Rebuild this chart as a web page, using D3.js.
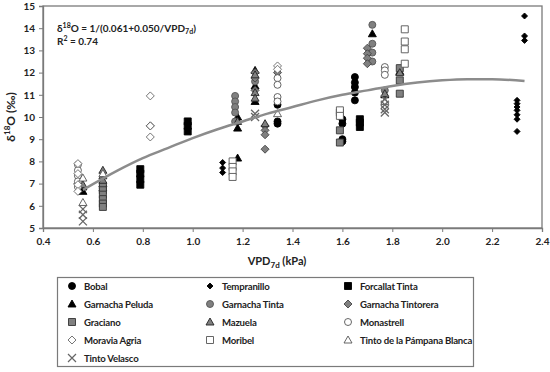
<!DOCTYPE html>
<html>
<head>
<meta charset="utf-8">
<script src="https://cdn.jsdelivr.net/npm/d3@7"></script>
<style>
  body { margin: 0; background: #fff; }
  svg text { font-family: Lato, "Liberation Sans", sans-serif; font-weight: bold; fill: #222; }
</style>
</head>
<body>
<div id="vis-container"></div>
<script>
// values: [VPD7d, d18O]
var bobal = [[1.34,10.55],[1.34,9.8],[1.34,9.7],[1.60,9.9],[1.60,9.7],[1.60,9.0],[1.60,8.9],
  [1.65,11.8],[1.65,11.55],[1.65,11.35],[1.65,11.1],[1.65,10.75]];
var tempranillo = [[1.12,7.95],[1.12,7.7],[1.12,7.5],[2.30,10.75],[2.30,10.6],[2.30,10.45],[2.30,10.3],
  [2.30,10.1],[2.30,9.9],[2.30,9.35],[2.33,14.55],[2.33,13.65],[2.33,13.45]];
var forcallat = [[0.79,6.95],[0.79,7.2],[0.79,7.45],[0.79,7.65],[0.98,9.35],[0.98,9.6],[0.98,9.8],
  [1.67,9.55],[1.67,9.75],[1.67,9.9]];
var garnachaPeluda = [[0.56,6.85],[0.56,6.65],[0.64,7.0],[0.64,6.8],[1.18,10.0],[1.18,9.5],[1.18,8.15],
  [1.25,12.1],[1.25,11.4],[1.25,10.7],[1.72,13.75],[1.77,11.0],[1.83,12.05]];
var garnachaTinta = [[1.17,10.95],[1.17,10.7],[1.17,10.45],[1.17,10.2],[1.17,9.8],[1.25,11.6],
  [1.72,14.15],[1.72,13.3],[1.72,12.9],[1.72,12.5],[1.77,11.2]];
var garnachaTintorera = [[0.54,7.0],[0.83,9.6],[1.25,12.0],[1.25,11.75],[1.25,11.2],[1.29,9.6],[1.29,9.4],
  [1.29,9.2],[1.29,8.55],[1.34,12.0],[1.70,13.1],[1.70,12.85],[1.70,12.65],[1.70,12.4]];
var graciano = [[0.64,6.9],[0.64,6.7],[0.64,6.5],[0.64,6.3],[0.64,6.1],[0.64,5.95],[1.59,10.2],[1.59,9.4],
  [1.59,8.85],[1.83,12.2],[1.83,11.65],[1.83,11.05]];
var mazuela = [[0.56,6.95],[0.64,7.6],[0.64,7.35],[0.64,7.15],[1.18,9.8],[1.25,11.9],[1.25,11.1],[1.25,10.85],
  [1.29,9.7],[1.77,11.05],[1.83,12.0]];
var monastrell = [[0.54,7.85],[0.54,7.6],[0.54,7.35],[0.54,7.1],[0.54,6.85],[1.34,11.75],[1.34,11.45],
  [1.34,10.9],[1.34,10.7],[1.77,12.25],[1.77,12.1],[1.77,11.9]];
var moraviaAgria = [[0.54,7.9],[0.54,7.45],[0.54,6.95],[0.54,6.65],[0.83,10.95],[0.83,9.6],[0.83,9.1],
  [1.34,12.3],[1.34,12.15]];
var moribel = [[1.16,8.0],[1.16,7.75],[1.16,7.55],[1.16,7.3],[1.59,10.3],[1.59,10.05],[1.85,13.95],
  [1.85,13.4],[1.85,13.05],[1.85,12.4]];
var tintoPampana = [[0.56,7.25],[0.56,6.15],[0.64,7.45],[1.34,10.15],[1.77,10.7]];
var tintoVelasco = [[0.56,5.85],[0.56,5.6],[0.56,5.3],[1.25,10.0],[1.25,10.15],[1.77,10.8],[1.77,10.55],
  [1.77,10.35],[1.77,10.2]];

// fitted curve
var trendX = [0.56, 0.7, 0.8, 0.9, 1.0, 1.1, 1.2, 1.3, 1.4, 1.5, 1.6, 1.7, 1.8, 1.9, 2.0, 2.1, 2.2, 2.33];
var trendY = [6.72, 7.6, 8.15, 8.6, 9.05, 9.45, 9.8, 10.15, 10.45, 10.75, 11.0, 11.2, 11.4, 11.55, 11.65, 11.7, 11.7, 11.62];

var xTicks = [0.4, 0.6, 0.8, 1.0, 1.2, 1.4, 1.6, 1.8, 2.0, 2.2, 2.4];
var yTicks = [5, 6, 7, 8, 9, 10, 11, 12, 13, 14, 15];

var series = [
  { name: "Bobal", data: bobal, shape: "circle", fill: "#000", stroke: "#000" },
  { name: "Tempranillo", data: tempranillo, shape: "smalldiamond", fill: "#000", stroke: "#000" },
  { name: "Forcallat Tinta", data: forcallat, shape: "square", fill: "#000", stroke: "#000" },
  { name: "Garnacha Peluda", data: garnachaPeluda, shape: "triangle", fill: "#000", stroke: "#000" },
  { name: "Garnacha Tinta", data: garnachaTinta, shape: "circle", fill: "#808080", stroke: "#555" },
  { name: "Garnacha Tintorera", data: garnachaTintorera, shape: "diamond", fill: "#808080", stroke: "#444" },
  { name: "Graciano", data: graciano, shape: "square", fill: "#808080", stroke: "#333" },
  { name: "Mazuela", data: mazuela, shape: "triangle", fill: "#808080", stroke: "#222" },
  { name: "Monastrell", data: monastrell, shape: "circle", fill: "#fff", stroke: "#555" },
  { name: "Moravia Agria", data: moraviaAgria, shape: "diamond", fill: "#fff", stroke: "#666" },
  { name: "Moribel", data: moribel, shape: "square", fill: "#fff", stroke: "#555" },
  { name: "Tinto de la Pámpana Blanca", data: tintoPampana, shape: "triangle", fill: "#fff", stroke: "#555" },
  { name: "Tinto Velasco", data: tintoVelasco, shape: "x", fill: "none", stroke: "#666" }
];

function shapePath(shape) {
  var r = 3.5;
  if (shape == "circle") return "M" + r + ",0A" + r + "," + r + " 0 1,1 " + (-r) + ",0A" + r + "," + r + " 0 1,1 " + r + ",0Z";
  if (shape == "square") return "M-3.5,-3.5H3.5V3.5H-3.5Z";
  if (shape == "diamond") return "M0,-4L4,0L0,4L-4,0Z";
  if (shape == "smalldiamond") return "M0,-3L3,0L0,3L-3,0Z";
  if (shape == "triangle") return "M0,-4L4,3L-4,3Z";
  if (shape == "x") return "M-4,-4L4,4M-4,4L4,-4";
}

var width = 550, height = 372;
var svg = d3.select("#vis-container").append("svg")
  .attr("width", width).attr("height", height);

var x = d3.scaleLinear().domain([0.4, 2.4]).range([43, 542]);
var y = d3.scaleLinear().domain([5, 15]).range([228, 6]);

// frame
svg.append("rect")
  .attr("x", x(0.4)).attr("y", y(15))
  .attr("width", x(2.4) - x(0.4)).attr("height", y(5) - y(15))
  .attr("fill", "none").attr("stroke", "#7a7a7a").attr("stroke-width", 1.3);

var xAxis = svg.append("g")
  .attr("transform", "translate(0," + y(5) + ")")
  .call(d3.axisBottom(x).tickValues(xTicks).tickFormat(d3.format(".1f")).tickSizeOuter(0).tickSize(4).tickPadding(6));
var yAxis = svg.append("g")
  .attr("transform", "translate(" + x(0.4) + ",0)")
  .call(d3.axisLeft(y).tickValues(yTicks).tickFormat(d3.format("d")).tickSizeOuter(0).tickSize(4).tickPadding(4));
[xAxis, yAxis].forEach(function (a) {
  a.select(".domain").attr("stroke", "#7a7a7a").attr("stroke-width", 1.3);
  a.selectAll(".tick line").attr("stroke", "#7a7a7a");
  a.selectAll(".tick text").attr("font-size", 10).attr("font-family", "Lato").attr("font-weight", "bold").attr("fill", "#222");
});

// points
series.forEach(function (s) {
  svg.append("g").selectAll("path")
    .data(s.data)
    .enter()
    .append("path")
    .attr("transform", function (d) { return "translate(" + x(d[0]) + "," + y(d[1]) + ")"; })
    .attr("d", shapePath(s.shape))
    .attr("fill", s.fill)
    .attr("stroke", s.stroke)
    .attr("stroke-width", s.shape == "x" ? 1.3 : 0.9);
});

// trend curve
var line = d3.line()
  .x(function (d) { return x(d); })
  .y(function (d, i) { return y(trendY[i]); })
  .curve(d3.curveMonotoneX);
svg.append("path")
  .attr("d", line(trendX))
  .attr("fill", "none")
  .attr("stroke", "#8c8c8c")
  .attr("stroke-width", 2.5);

// equation
var eq = svg.append("text").attr("x", 57).attr("y", 32).attr("font-size", 10);
eq.append("tspan").text("δ");
eq.append("tspan").attr("font-size", 7).attr("dy", -4).text("18");
eq.append("tspan").attr("dy", 4).text("O = 1/(0.061+0.050/VPD");
eq.append("tspan").attr("font-size", 7).attr("dy", 2).text("7d");
eq.append("tspan").attr("dy", -2).text(")");
var r2 = svg.append("text").attr("x", 57).attr("y", 45).attr("font-size", 10);
r2.append("tspan").text("R");
r2.append("tspan").attr("font-size", 7).attr("dy", -4).text("2");
r2.append("tspan").attr("dy", 4).text(" = 0.74");

// axis titles
var xt = svg.append("text").attr("x", 277).attr("y", 265).attr("text-anchor", "middle").attr("font-size", 11);
xt.append("tspan").text("VPD");
xt.append("tspan").attr("font-size", 8).attr("dy", 3).text("7d");
xt.append("tspan").attr("dy", -3).text(" (kPa)");

var yt = svg.append("text").attr("transform", "translate(15,117) rotate(-90)")
  .attr("text-anchor", "middle").attr("font-size", 12);
yt.append("tspan").text("δ");
yt.append("tspan").attr("font-size", 8).attr("dy", -5).text("18");
yt.append("tspan").attr("dy", 5).text("O (‰)");

// legend
svg.append("rect")
  .attr("x", 57.5).attr("y", 277.5).attr("width", 416).attr("height", 89)
  .attr("fill", "#fff").attr("stroke", "#7a7a7a").attr("stroke-width", 1.2);
var colX = [72, 210, 348];
var rowY = [286, 304, 322, 340, 358];
var leg = svg.append("g").selectAll("g")
  .data(series)
  .enter()
  .append("g")
  .attr("transform", function (d, i) { return "translate(" + colX[i % 3] + "," + rowY[Math.floor(i / 3)] + ")"; });
leg.append("path")
  .attr("d", function (d) { return shapePath(d.shape); })
  .attr("fill", function (d) { return d.fill; })
  .attr("stroke", function (d) { return d.stroke; })
  .attr("stroke-width", function (d) { return d.shape == "x" ? 1.2 : 0.9; });
leg.append("text")
  .attr("x", 12).attr("y", 3.5)
  .attr("font-size", 9.6)
  .attr("letter-spacing", -0.2)
  .text(function (d) { return d.name; });
</script>
</body>
</html>
